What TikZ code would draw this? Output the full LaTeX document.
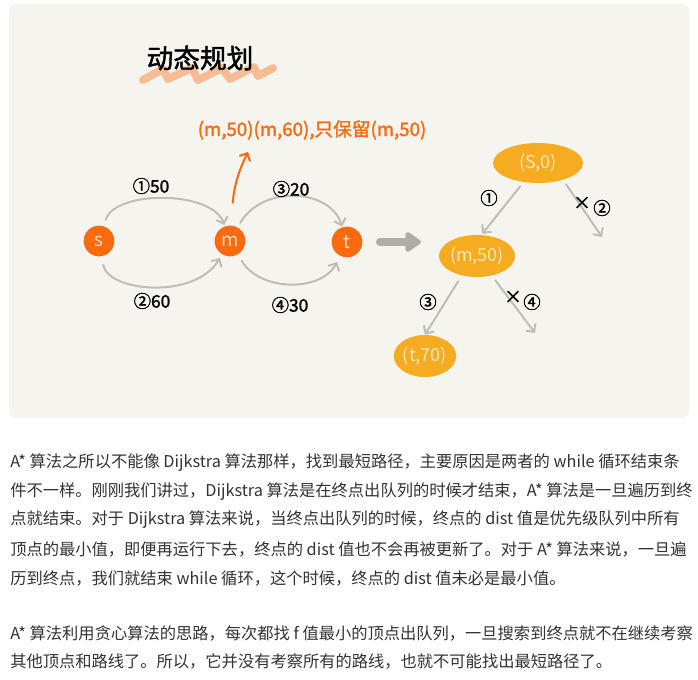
\documentclass[tikz,border=0pt]{standalone}
\usepackage{fontspec}
\setmainfont{Noto Sans CJK SC}
\newfontfamily\handfont[FakeBold=1.6]{Noto Sans CJK SC}
\usetikzlibrary{arrows.meta,calc,shapes.geometric}
\definecolor{panel}{HTML}{F5F4EF}
\definecolor{vorange}{HTML}{F96B0E}
\definecolor{vtxt}{HTML}{FCDCC2}
\definecolor{tyellow}{HTML}{F5AC20}
\definecolor{ttxt}{HTML}{FCE6BC}
\definecolor{egray}{HTML}{BEBDB7}
\definecolor{bgray}{HTML}{AEADA8}
\definecolor{squig}{HTML}{F9B283}
\definecolor{bodytxt}{HTML}{333333}
\tikzset{
  vtx/.style={circle, fill=vorange, text=vtxt, minimum size=23pt, inner sep=0pt, font=\fontsize{14}{14}\selectfont},
  tnode/.style={ellipse, fill=tyellow, text=ttxt, inner sep=0pt, font=\fontsize{13.5}{13.5}\selectfont},
  edge/.style={draw=egray, line width=1.5pt, -{Straight Barb[length=4.5pt,width=9pt]}, line cap=round},
  orarrow/.style={draw=vorange, line width=1.5pt, -{Straight Barb[length=4.5pt,width=9pt]}, line cap=round},
  lbl/.style={text=black, font=\handfont\fontsize{13}{13}\selectfont, inner sep=0pt},
  bigarrow/.style={draw=bgray, line width=6pt, line cap=round, -{Triangle[length=13pt,width=17pt,round]}},
  bodyline/.style={anchor=west, text=bodytxt, font=\fontsize{12.2}{12.2}\selectfont, inner sep=0pt},
}
\begin{document}
\begin{tikzpicture}[x=0.75pt,y=-0.75pt]
\useasboundingbox (0,0) rectangle (698,680);
\fill[white] (0,0) rectangle (698,680);
\fill[panel, rounded corners=5pt] (9,4) rectangle (689,418);

% title with squiggle
\draw[squig, line width=6pt, line join=round, line cap=round, opacity=0.85]
  (143,80) -- (163,69) -- (168,79) -- (192,68) -- (198,80) -- (222,68) -- (230,79) -- (254,67) -- (258,76) -- (273,68);
\node[font=\handfont\fontsize{20}{20}\selectfont, text=black] (title) at (200,58) {动态规划};

% note
\node[text=vorange, font=\handfont\fontsize{14}{14}\selectfont, inner sep=0pt] (note) at (312,130) {(m,50)(m,60),只保留(m,50)};

% graph
\node[vtx] (s) at (99,241) {s};
\node[vtx] (m) at (230,241) {m};
\node[vtx] (t) at (347,242) {t};

\draw[edge, shorten <=5pt, shorten >=1pt] (s) .. controls (115,190) and (212,190) .. (m);
\draw[edge, shorten <=6.5pt, shorten >=3pt] (s) .. controls (108,292) and (195,300) .. (m);
\draw[edge, shorten <=4pt, shorten >=0.5pt] (m) .. controls (262,185) and (330,188) .. (t);
\draw[edge, shorten <=5.5pt, shorten >=5pt] (m) .. controls (260,292) and (322,292) .. (t);

\node[lbl] (l1) at (151,186) {①50};
\node[lbl] (l2) at (152,301) {②60};
\node[lbl] (l3) at (291,189) {③20};
\node[lbl] (l4) at (290,305) {④30};

\coordinate (ob) at (248,152);
\draw[orarrow, shorten <=17pt] (m) .. controls (234,185) and (240,168) .. (ob);

% big arrow
\coordinate (ga) at (380,242);
\coordinate (gb) at (421,242);
\draw[bigarrow] (ga) -- (gb);

% tree
\node[tnode, minimum width=67.5pt, minimum height=30pt] (s0) at (538,163) {(S,0)};
\node[tnode, minimum width=53pt, minimum height=31.5pt] (m50) at (477,256) {(m,50)};
\node[tnode, minimum width=46.5pt, minimum height=31.5pt] (t70) at (425,356) {(t,70)};

\coordinate (x2) at (602,237);
\coordinate (x4) at (535,333);
\draw[edge, shorten <=4pt, shorten >=1pt] (s0.-127) -- (m50.78);
\draw[edge, shorten <=4pt] (s0.-34) -- (x2);
\draw[edge, shorten <=5pt] (m50.-128) -- (t70.90);
\draw[edge, shorten <=4.5pt] (m50.-53) -- (x4);

\node[lbl] (n1) at (489,198) {①};
\node[lbl] (c2) at (582,203) {×};
\node[lbl] (n2) at (602,208) {②};
\node[lbl] (n3) at (428,302) {③};
\node[lbl] (c4) at (513,297) {×};
\node[lbl] (n4) at (532,302) {④};

% body text
\node[bodyline] (p1) at (10,463) {A* 算法之所以不能像 Dijkstra 算法那样，找到最短路径，主要原因是两者的 while 循环结束条};
\node[bodyline] (p2) at (10,492) {件不一样。刚刚我们讲过，Dijkstra 算法是在终点出队列的时候才结束，A* 算法是一旦遍历到终};
\node[bodyline] (p3) at (10,520) {点就结束。对于 Dijkstra 算法来说，当终点出队列的时候，终点的 dist 值是优先级队列中所有};
\node[bodyline] (p4) at (10,549) {顶点的最小值，即便再运行下去，终点的 dist 值也不会再被更新了。对于 A* 算法来说，一旦遍};
\node[bodyline] (p5) at (10,578) {历到终点，我们就结束 while 循环，这个时候，终点的 dist 值未必是最小值。};
\node[bodyline] (q1) at (10,633) {A* 算法利用贪心算法的思路，每次都找 f 值最小的顶点出队列，一旦搜索到终点就不在继续考察};
\node[bodyline] (q2) at (10,661) {其他顶点和路线了。所以，它并没有考察所有的路线，也就不可能找出最短路径了。};
\end{tikzpicture}
\end{document}
